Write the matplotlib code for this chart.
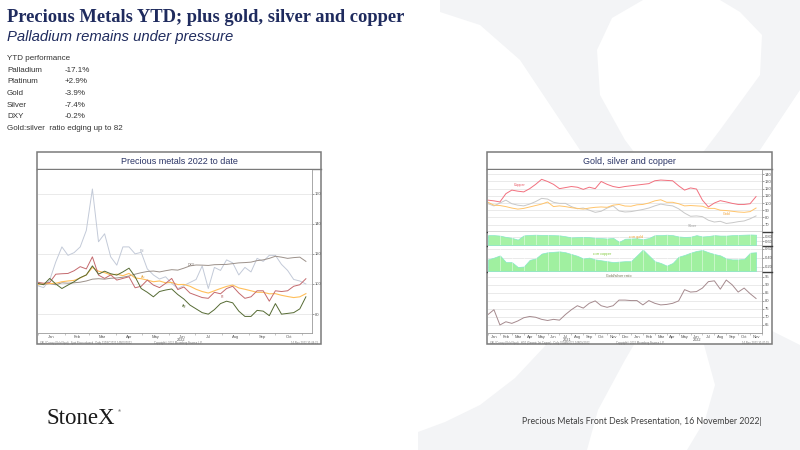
import matplotlib
matplotlib.use("Agg")
import matplotlib.pyplot as plt
from matplotlib.patches import Polygon, Rectangle
import numpy as np

plt.rcParams['font.family'] = ['Liberation Sans', 'DejaVu Sans']

W, H = 800, 450

# ---- Precious metals 2022 to date (rebased = 100, weekly) ----
pm_days = np.arange(45) * 7
palladium = [98.9, 97.6, 102.6, 114.7, 124.6, 119, 120.8, 124.6, 135.5, 163,
             128, 133.3, 118, 112.5, 124.6, 124.6, 120, 121, 110, 106,
             103.3, 104.8, 100.4, 97, 99, 101, 103, 112, 97, 111,
             109, 116, 114, 106, 111, 108, 117, 115, 119, 119,
             113, 109, 103, 102, 100]
dxy = [99.5, 99.8, 100.2, 99.5, 100.8, 100.5, 100.8, 101.2, 102, 103.2,
       103.5, 103.2, 103.8, 104, 104.5, 105.3, 106.5, 107.5, 108.3, 108.6,
       108, 108.8, 109.5, 109.2, 110.5, 112, 112.6, 112.5, 112.3, 112.8,
       112.9, 113, 113.5, 114, 114.2, 114.5, 115.5, 116, 117, 118.4,
       117.8, 117, 117.5, 117.8, 115]
platinum = [101.2, 100.5, 101, 106.5, 106.8, 107, 108.8, 111.5, 110, 118,
            105.9, 103.7, 106, 102.6, 103.7, 104.8, 97.5, 98.5, 102.6, 99.3,
            97.6, 100.4, 103.7, 96.3, 98, 94, 92.5, 91, 90.5, 94.5,
            93.5, 97, 98.5, 94, 90.5, 91.5, 95.5, 95.5, 88.6, 95.5,
            95, 95.5, 98.5, 99.5, 103.5]
gold = [99.6, 100.2, 100.3, 100.5, 101.5, 102, 102.4, 104, 106, 111,
        108.5, 107.5, 106, 106.5, 105.5, 107, 104, 103.5, 102.6, 101.5,
        102, 100.8, 101, 99.6, 99.7, 98.5, 96.5, 95, 94, 95.5,
        97, 98.4, 99.3, 97.4, 96.5, 95.5, 94.5, 94.5, 93.5, 93.6,
        92.5, 91.7, 91, 91.5, 93.6]
silver = [100.5, 99.5, 103.7, 100, 97, 99.3, 101.5, 104.2, 106, 112,
          106.5, 108.5, 106.8, 105.9, 108, 110.5, 104.8, 97, 94.5, 91.5,
          95, 96, 96.7, 93, 90, 86, 83.5, 81, 80, 83,
          87, 88.6, 87.5, 82, 78.5, 78.5, 82.5, 82, 79, 87,
          80, 80.5, 81, 83.5, 91.5]
pm_months = ['Jan', 'Feb', 'Mar', 'Apr', 'May', 'Jun', 'Jul', 'Aug', 'Sep', 'Oct']
pm_month_start = [0, 31, 59, 90, 120, 151, 181, 212, 243, 273, 304]

# ---- Gold, silver and copper (Jan 2021 - Nov 2022, semi-monthly) ----
gsc_t = np.arange(46) * 0.5   # months since Jan 2021
copper_r = [104, 103, 101.5, 113, 118, 116.5, 115.5, 120, 126, 133,
            130, 126, 120, 121.5, 123, 122, 119, 122, 120, 130,
            126, 123, 121.5, 123, 124, 125, 126, 127, 131, 132,
            131.5, 131, 124, 118, 121, 119.5, 104, 94.5, 100, 103.3,
            101.5, 99.5, 98, 98, 99, 109]
gold_r = [101, 97, 96.5, 95, 93, 91.5, 92.5, 94.5, 96.5, 98.5,
          101.4, 95, 96, 95, 93.5, 92.5, 91.5, 93, 94, 94.5,
          94, 97, 98, 95.8, 95.5, 97.5, 98, 100, 103, 104.5,
          101, 101, 99, 96, 96.5, 96, 95.5, 92.5, 92.5, 90,
          89.5, 88.5, 87.5, 87, 88, 93]
silver_r = [99, 96, 100, 104, 99, 97, 96, 98.5, 102, 106.5,
            105.5, 101, 99.5, 99.5, 95, 92, 93, 90, 87, 88.5,
            93, 96, 89, 87.5, 88, 89.5, 91, 93, 96, 98.5,
            97, 96, 92, 86, 81.5, 82, 81, 76, 73.5, 74.5,
            71.5, 72.5, 74, 75, 78, 82]
corr_gold = [.88, .88, .86, .80, .76, .68, .87, .89, .90, .89,
             .89, .88, .87, .83, .78, .79, .80, .79, .76, .75,
             .73, .76, .58, .72, .73, .74, .70, .75, .88, .88,
             .90, .88, .82, .80, .81, .88, .82, .84, .88, .86,
             .86, .88, .89, .90, .91, .90]
corr_copper = [.36, .40, .45, .30, .30, .19, .20, .35, .38, .49,
               .52, .53, .54, .52, .48, .44, .38, .40, .36, .34,
               .32, .30, .31, .32, .32, .45, .58, .45, .32, .28,
               .22, .28, .42, .46, .51, .55, .57, .52, .48, .45,
               .38, .36, .36, .37, .51, .52]
gs_ratio = [71.5, 74.5, 65, 67, 66, 67.5, 69.5, 70.3, 69.8, 68.5,
            67.8, 68.5, 68, 71.5, 74.5, 77, 75.5, 78.5, 80, 77,
            76, 77, 80.5, 80.5, 80.2, 80.2, 77.5, 80.2, 78.5, 77.5,
            77.8, 78.5, 80, 87, 85.5, 85.8, 88, 92, 92.5, 87.3,
            93, 90, 85.5, 88, 84.5, 81.5]
gsc_months = ['Jan', 'Feb', 'Mar', 'Apr', 'May', 'Jun', 'Jul', 'Aug', 'Sep', 'Oct', 'Nov', 'Dec',
              'Jan', 'Feb', 'Mar', 'Apr', 'May', 'Jun', 'Jul', 'Aug', 'Sep', 'Oct', 'Nov']

perf_names = ['Palladium', 'Platinum', 'Gold', 'Silver', 'DXY']
perf_values = ['-17.1%', '+2.9%', '-3.9%', '-7.4%', '-0.2%']

NAVY = '#1f2b5e'
TICK = '#555555'


def px_box(x0, y0, x1, y1):
    return [x0 / W, 1 - y1 / H, (x1 - x0) / W, (y1 - y0) / H]


fig = plt.figure(figsize=(8, 4.5), dpi=100)
bg = fig.add_axes([0, 0, 1, 1], zorder=0)
bg.set_xlim(0, W)
bg.set_ylim(H, 0)
bg.axis('off')

# big faint "X" watermark
wm = '#f3f4f6'
stroke_a = [(440, 0), (643, 0), (612, 18), (597, 50), (600, 95), (625, 140), (700, 240),
            (770, 330), (800, 345), (800, 450), (687, 450), (705, 420), (715, 385),
            (700, 330), (640, 240), (560, 120), (520, 60), (480, 25), (440, 12)]
stroke_b = [(720, 0), (800, 0), (800, 90), (760, 150), (700, 240), (660, 300),
            (625, 360), (598, 410), (587, 450), (418, 450), (418, 432), (445, 422),
            (480, 405), (515, 378), (560, 330), (640, 235), (720, 130), (760, 75),
            (762, 35), (740, 12)]
bg.add_patch(Polygon(stroke_a, closed=True, facecolor=wm, edgecolor='none'))
bg.add_patch(Polygon(stroke_b, closed=True, facecolor=wm, edgecolor='none'))

# headings and commentary
bg.text(7, 18, 'Precious Metals YTD; plus gold, silver and copper', family='Liberation Serif',
        weight='bold', fontsize=13.3, color=NAVY, va='center')
bg.text(7, 37, 'Palladium remains under pressure', style='italic', fontsize=10.7,
        color=NAVY, va='center')
bg.text(7, 58, 'YTD performance', fontsize=5.8, color='#333333', va='center')
for i, (n, v) in enumerate(zip(perf_names, perf_values)):
    y = 70 + i * 11.7
    bg.text(7, y, n, fontsize=5.8, color='#333333', va='center')
    bg.text(65, y, v, fontsize=5.8, color='#333333', va='center')
bg.text(7, 129, 'Gold:silver  ratio edging up to 82', fontsize=5.8, color='#333333', va='center')

bg.text(47, 418, 'StoneX', family='Liberation Serif', fontsize=16.5, color='#1a1a1a', va='center')
bg.text(118, 411, '®', fontsize=3, color='#1a1a1a', va='center')
bg.text(762, 422, 'Precious Metals Front Desk Presentation, 16 November 2022|', family='Lato',
        fontsize=6.3, color='#404040', va='center', ha='right')

# chart frames
for (x0, x1, title) in [(37, 321, 'Precious metals 2022 to date'),
                        (487, 772, 'Gold, silver and copper')]:
    bg.add_patch(Rectangle((x0, 152), x1 - x0, 192, facecolor='white',
                           edgecolor='#7a7a7a', lw=1.1, zorder=2))
    bg.plot([x0, x1], [169, 169], color='#7a7a7a', lw=1.0, zorder=3)
    bg.text((x0 + x1) / 2, 161, title, fontsize=6.5, color='#2b3566', ha='center',
            va='center', zorder=3)


def style_axis(ax, yticks, ylabels=None):
    ax.set_facecolor('white')
    for s in ['top', 'left']:
        ax.spines[s].set_visible(False)
    for s in ['right', 'bottom']:
        ax.spines[s].set_color('#9a9a9a')
        ax.spines[s].set_linewidth(0.6)
    ax.yaxis.tick_right()
    ax.set_yticks(yticks)
    if ylabels is not None:
        ax.set_yticklabels(ylabels)
    ax.tick_params(axis='y', labelsize=3, length=1.2, width=0.4, colors=TICK, pad=1)
    ax.grid(axis='y', color='#e6e6e6', lw=0.6)
    ax.set_axisbelow(True)


# ---- left chart ----
ax = fig.add_axes(px_box(37.5, 170, 312, 333), zorder=3)
style_axis(ax, [80, 100, 120, 140, 160])
ax.plot(pm_days, palladium, color='#c3cad8', lw=0.7)
ax.plot(pm_days, dxy, color='#9c918a', lw=0.7)
ax.plot(pm_days, gold, color='#ffbf5a', lw=0.8)
ax.plot(pm_days, platinum, color='#c46a6e', lw=0.7)
ax.plot(pm_days, silver, color='#566b34', lw=0.7)
ax.set_xlim(0, 315)
ax.set_ylim(67.5, 175.6)
mids = [(a + b) / 2 for a, b in zip(pm_month_start[:-1], pm_month_start[1:])]
ax.set_xticks(mids)
ax.set_xticklabels(pm_months)
ax.set_xticks(pm_month_start, minor=True)
ax.tick_params(axis='x', which='major', length=0, labelsize=3, colors=TICK, pad=1.5)
ax.tick_params(axis='x', which='minor', length=1.5, width=0.4, colors='#9a9a9a')
for lab, x, y, c in [('Pd', 120, 122, '#9aa2b2'), ('DXY', 177, 112.5, '#7f756f'),
                     ('Au', 121, 104.6, '#e8a640'), ('Pt', 212, 91.4, '#b05a5e'),
                     ('Ag', 168, 85.5, '#566b34')]:
    ax.text(x, y, lab, fontsize=2.6, color=c, ha='center', va='center')
bg.text(181, 340, '2022', fontsize=2.8, color=TICK, ha='center', va='center', zorder=4)
bg.text(40, 343.3, 'XAU Curncy (Gold Spot)   Spot Price rebased   Daily 31DEC2021-14NOV2022',
        fontsize=1.9, color='#777777', va='center', zorder=4)
bg.text(178, 343.3, 'Copyright\u00a9 2022 Bloomberg Finance L.P.', fontsize=1.9,
        color='#777777', va='center', ha='center', zorder=4)
bg.text(318, 343.3, '14-Nov-2022 10:44:21', fontsize=1.9, color='#777777',
        va='center', ha='right', zorder=4)

# ---- right chart: four stacked panels ----
month_edges = np.arange(24)
gsc_mids = month_edges[:-1] + 0.5

p1 = fig.add_axes(px_box(488, 170, 762, 231), zorder=3)
p2 = fig.add_axes(px_box(488, 232, 762, 245), zorder=3)
p3 = fig.add_axes(px_box(488, 246, 762, 271), zorder=3)
p4 = fig.add_axes(px_box(488, 272, 762, 333), zorder=3)

style_axis(p1, [70, 80, 90, 100, 110, 120, 130, 140])
p1.plot(gsc_t, silver_r, color='#c8c8c8', lw=0.7)
p1.plot(gsc_t, gold_r, color='#ffc46a', lw=0.7)
p1.plot(gsc_t, copper_r, color='#f2707e', lw=0.7)
p1.set_ylim(61, 146)
p1.text(2.7, 125.5, 'Copper', fontsize=2.6, color='#e8505e', ha='center', va='center')
p1.text(20.0, 85, 'Gold', fontsize=2.6, color='#f0a030', ha='center', va='center')
p1.text(17.2, 68.5, 'Silver', fontsize=2.6, color='#999999', ha='center', va='center')

style_axis(p2, [0.6, 0.8], ['0.60', '0.80'])
p2.fill_between(gsc_t, 0.44, corr_gold, color='#a6f2a6', edgecolor='#86e8c8', lw=0.5)
p2.set_ylim(0.44, 1.02)
p2.text(12.4, 0.80, 'corr gold', fontsize=2.6, color='#f0a030', ha='center', va='center')

style_axis(p3, [0.2, 0.4, 0.6], ['0.20', '0.40', '0.60'])
p3.fill_between(gsc_t, 0.10, corr_copper, color='#a0f0a0', edgecolor='#86e8c8', lw=0.5)
p3.set_ylim(0.10, 0.66)
p3.text(9.6, 0.47, 'corr copper', fontsize=2.6, color='#7cc832', ha='center', va='center')

style_axis(p4, [65, 70, 75, 80, 85, 90, 95])
p4.plot(gsc_t, gs_ratio, color='#a58a8e', lw=0.7)
p4.set_ylim(60, 98)
p4.text(11.0, 95.5, 'Gold/silver ratio', fontsize=2.6, color='#6b6b4a', ha='center', va='center')

for p in [p1, p2, p3, p4]:
    p.set_xlim(0, 23)
    p.spines['bottom'].set_visible(False)
    p.tick_params(axis='x', which='both', length=0, labelbottom=False)
for p in [p2, p3]:
    for m in month_edges[1:]:
        p.axvline(m, color='white', lw=0.5, alpha=0.6, zorder=3)
p4.spines['bottom'].set_visible(True)
p4.set_xticks(month_edges, minor=True)
p4.set_xticks(gsc_mids)
p4.set_xticklabels(gsc_months)
p4.tick_params(axis='x', which='major', labelbottom=True, labelsize=3, colors=TICK, pad=1.5)
p4.tick_params(axis='x', which='minor', length=1.5, width=0.4, color='#9a9a9a')

for y in [231.5, 245.5, 271.5]:
    bg.plot([487, 772], [y, y], color='#3c3c3c', lw=1.0, zorder=4)
bg.text(567, 340, '2021', fontsize=2.8, color=TICK, ha='center', va='center', zorder=4)
bg.text(697, 340, '2022', fontsize=2.8, color=TICK, ha='center', va='center', zorder=4)
bg.text(490, 343.3, 'XAU Curncy (Gold Spot)   HG1 (Generic 1st Copper)   Daily 01JAN2021-14NOV2022',
        fontsize=1.9, color='#777777', va='center', zorder=4)
bg.text(640, 343.3, 'Copyright\u00a9 2022 Bloomberg Finance L.P.', fontsize=1.9,
        color='#777777', va='center', ha='center', zorder=4)
bg.text(769, 343.3, '14-Nov-2022 10:47:19', fontsize=1.9, color='#777777',
        va='center', ha='right', zorder=4)

fig.savefig('out.png', dpi=100)
